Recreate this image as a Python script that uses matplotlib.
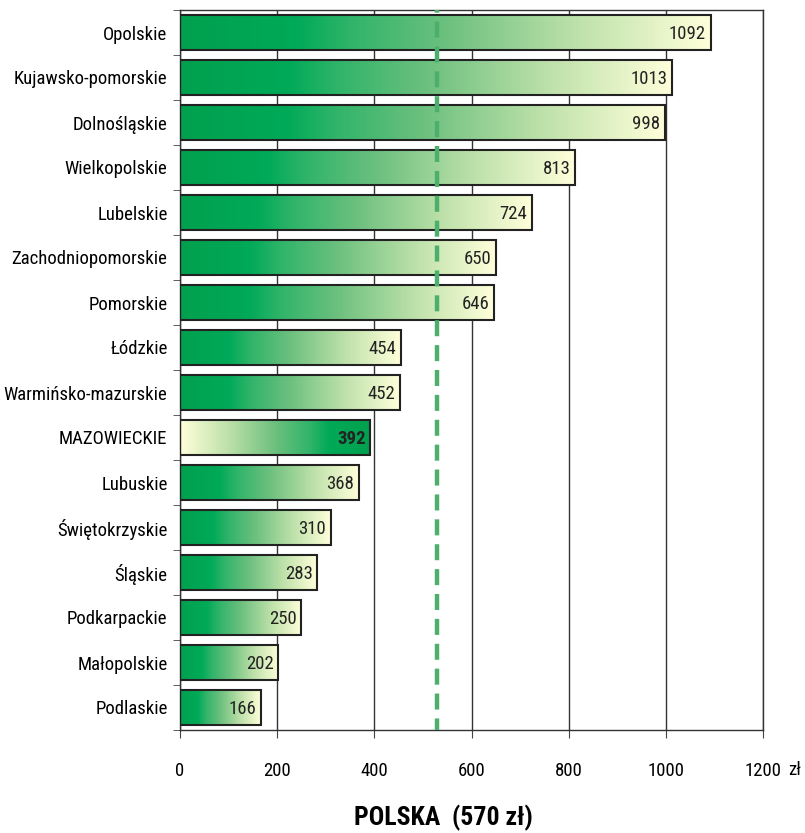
import matplotlib
matplotlib.use("Agg")
import matplotlib.pyplot as plt
import numpy as np
from matplotlib.colors import LinearSegmentedColormap
from matplotlib import font_manager

categories = ["Opolskie", "Kujawsko-pomorskie", "Dolnośląskie", "Wielkopolskie",
              "Lubelskie", "Zachodniopomorskie", "Pomorskie", "Łódzkie",
              "Warmińsko-mazurskie", "MAZOWIECKIE", "Lubuskie", "Świętokrzyskie",
              "Śląskie", "Podkarpackie", "Małopolskie", "Podlaskie"]
values = [1092, 1013, 998, 813, 724, 650, 646, 454, 452, 392, 368, 310, 283, 250, 202, 166]
highlight = "MAZOWIECKIE"
average_line = 530
x_ticks = [0, 200, 400, 600, 800, 1000, 1200]
title = "POLSKA  (570 zł)"
unit = "zł"

available = {f.name for f in font_manager.fontManager.ttflist}
preferred = ["Roboto Condensed", "Liberation Sans Narrow", "DejaVu Sans Condensed",
             "Open Sans Condensed", "Liberation Sans"]
FONT = [f for f in preferred if f in available] + ["DejaVu Sans"]
plt.rcParams["font.family"] = FONT
condensed = FONT[0] not in ("Liberation Sans", "DejaVu Sans")
FS = 13.5 if condensed else 11.5

stops = [(0.0, (0/255, 160/255, 78/255)),
         (0.22, (0/255, 170/255, 88/255)),
         (0.32, (48/255, 180/255, 106/255)),
         (0.5, (108/255, 192/255, 126/255)),
         (0.75, (190/255, 225/255, 170/255)),
         (1.0, (255/255, 255/255, 218/255))]
cmap = LinearSegmentedColormap.from_list("grad", stops)
grad = np.linspace(0, 1, 256).reshape(1, -1)

fig = plt.figure(figsize=(8.05, 8.33), dpi=100)
ax = fig.add_axes([180/805, 1 - 730/833, 583/805, 720/833])

n = len(categories)
ypos = np.arange(n)
h = 0.78
for i, (cat, v) in enumerate(zip(categories, values)):
    g = grad[:, ::-1] if cat == highlight else grad
    ax.imshow(g, cmap=cmap, aspect="auto", extent=[0, v, i + h/2, i - h/2],
              zorder=2, interpolation="bilinear")
    bold = cat == highlight
    ax.text(v - 9, i + 0.03, str(v), ha="right", va="center", fontsize=FS,
            fontweight="bold" if bold else "normal", color="#222222", zorder=4)

ax.barh(ypos, values, height=h, left=0, facecolor="none", edgecolor="#222222",
        linewidth=1.5, zorder=3)

ax.axvline(average_line, color="#4caf6c", linestyle=(1, (3.6, 2.0)), linewidth=3.2, zorder=5)

ax.set_xlim(0, 1200)
ax.set_ylim(n - 0.5, -0.5)
ax.set_xticks(x_ticks)
ax.set_xticklabels([str(t) for t in x_ticks], fontsize=FS)
ax.tick_params(axis="x", direction="out", length=6, pad=17, color="#444444")
ax.set_yticks(ypos)
ax.set_yticklabels(categories, fontsize=FS)
ax.tick_params(axis="y", length=0, pad=9)
ax.set_yticks(np.arange(-0.5, n, 1.0), minor=True)
ax.tick_params(axis="y", which="minor", direction="out", length=5, color="#444444")
ax.grid(axis="x", color="#333333", linewidth=1.0, zorder=0)
ax.set_axisbelow(True)
for s in ax.spines.values():
    s.set_color("#333333")
    s.set_linewidth(1.0)

fig.text(788/805, 1 - 770/833, unit, fontsize=FS, ha="left", va="center")
fig.text(443/805, 1 - 818/833, title, fontsize=18.5, fontweight="bold", ha="center", va="center")

fig.savefig("out.png", dpi=100)
